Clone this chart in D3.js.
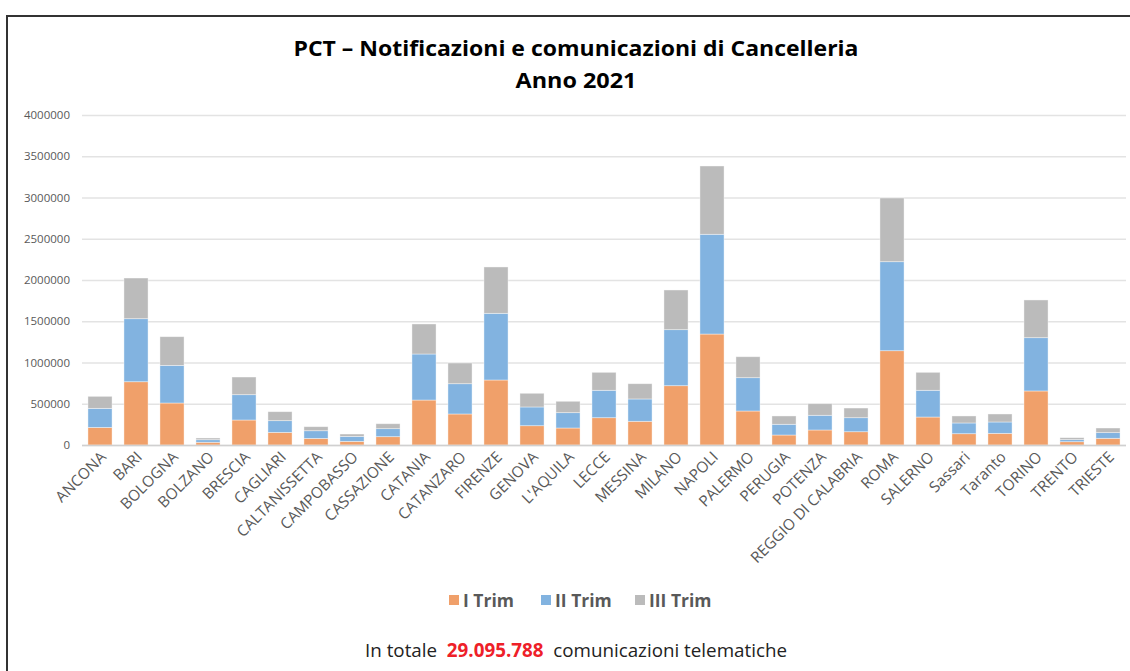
<!DOCTYPE html>
<html>
<head>
<meta charset="utf-8">
<script src="https://cdn.jsdelivr.net/npm/d3@7"></script>
<style>
html,body{margin:0;padding:0;background:#fff;}
svg{display:block;}
</style>
</head>
<body>
<svg id="chart" width="1130" height="671"></svg>
<script>
const categories = ["ANCONA","BARI","BOLOGNA","BOLZANO","BRESCIA","CAGLIARI","CALTANISSETTA","CAMPOBASSO","CASSAZIONE","CATANIA","CATANZARO","FIRENZE","GENOVA","L'AQUILA","LECCE","MESSINA","MILANO","NAPOLI","PALERMO","PERUGIA","POTENZA","REGGIO DI CALABRIA","ROMA","SALERNO","Sassari","Taranto","TORINO","TRENTO","TRIESTE"];
const trim1 = [213000,767000,509000,33000,303000,153000,80000,44000,101000,545000,376000,788000,234000,206000,331000,287000,719000,1345000,412000,121000,182000,161000,1143000,339000,137000,141000,655000,40000,81000];
const trim2 = [231000,764000,456000,31000,307000,142000,93000,60000,97000,558000,367000,808000,227000,186000,332000,271000,679000,1209000,404000,130000,178000,170000,1079000,324000,130000,138000,646000,25000,69000];
const trim3 = [146000,493000,348000,21000,214000,109000,49000,29000,60000,364000,251000,562000,166000,138000,218000,185000,481000,828000,254000,101000,141000,117000,772000,218000,85000,97000,457000,24000,56000];
const seriesNames = ["I Trim","II Trim","III Trim"];
const seriesColors = ["#F0A06A","#82B3E0","#BBBBBB"];
const yTicks = [0,500000,1000000,1500000,2000000,2500000,3000000,3500000,4000000];
const titleLines = ["PCT \u2013 Notificazioni e comunicazioni di Cancelleria","Anno 2021"];
const totalText = ["In totale ","29.095.788"," comunicazioni telematiche"];

const svg = d3.select("#chart");
const W = 1130, H = 671;
const m = {left:82, right:4, top:115, bottom:226};
const x = d3.scaleBand().domain(categories).range([m.left, W - m.right]).paddingInner(0.33).paddingOuter(0.165);
const y = d3.scaleLinear().domain([0,4000000]).range([H - m.bottom, m.top]);

// frame
svg.append("line").attr("x1",6).attr("x2",W).attr("y1",16).attr("y2",16).attr("stroke","#333").attr("stroke-width",2);
svg.append("line").attr("x1",7).attr("x2",7).attr("y1",15).attr("y2",H).attr("stroke","#333").attr("stroke-width",2);

// title
const fontMain = "'Open Sans', 'Liberation Sans', sans-serif";
svg.append("text").attr("x",576).attr("y",56).attr("text-anchor","middle")
  .attr("font-family",fontMain).attr("font-weight","bold").attr("font-size",21)
  .attr("fill","#000").attr("textLength",565).attr("lengthAdjust","spacingAndGlyphs").text(titleLines[0]);
svg.append("text").attr("x",576).attr("y",88).attr("text-anchor","middle")
  .attr("font-family",fontMain).attr("font-weight","bold").attr("font-size",21)
  .attr("fill","#000").attr("textLength",121).attr("lengthAdjust","spacingAndGlyphs").text(titleLines[1]);

// grid + y axis
const yAxis = d3.axisLeft(y).tickValues(yTicks).tickSize(-(W - m.right - m.left)).tickFormat(d3.format("d")).tickPadding(12);
const gy = svg.append("g").attr("transform",`translate(${m.left},0)`).call(yAxis);
gy.select(".domain").remove();
gy.selectAll(".tick line").attr("stroke","#E3E3E3").attr("stroke-width",1.3);
gy.selectAll(".tick text").attr("font-family",fontMain).attr("font-size",11.5).attr("fill","#595959");

// stacked bars
const rows = categories.map((c,i)=>({cat:c, t1:trim1[i], t2:trim2[i], t3:trim3[i]}));
const stack = d3.stack().keys(["t1","t2","t3"]);
const layers = stack(rows);
svg.append("g").selectAll("g").data(layers).join("g")
  .attr("fill",(d,i)=>seriesColors[i])
  .selectAll("rect").data(d=>d).join("rect")
  .attr("x",d=>x(d.data.cat)).attr("width",x.bandwidth())
  .attr("y",d=>y(d[1])).attr("height",d=>y(d[0])-y(d[1]))
  .attr("stroke","rgba(255,255,255,0.5)").attr("stroke-width",0.8);

// x axis line
svg.append("line").attr("x1",m.left).attr("x2",W-m.right).attr("y1",y(0)+0.5).attr("y2",y(0)+0.5)
  .attr("stroke","#D0D0D0").attr("stroke-width",1.5);

// x labels
const xAxis = d3.axisBottom(x).tickSize(0).tickPadding(0);
const gx = svg.append("g").attr("transform",`translate(0,${y(0)})`).call(xAxis);
gx.select(".domain").remove();
gx.selectAll(".tick text")
  .attr("font-family",fontMain).attr("font-size",15.3).attr("fill","#595959")
  .attr("text-anchor","end").attr("dy",null)
  .attr("transform","translate(7,13) rotate(-45)");

// legend
const legX = [449,541,635];
const lg = svg.append("g");
seriesNames.forEach((n,i)=>{
  lg.append("rect").attr("x",legX[i]).attr("y",595).attr("width",10).attr("height",10).attr("fill",seriesColors[i]);
  lg.append("text").attr("x",legX[i]+14).attr("y",607).attr("font-family",fontMain).attr("font-weight","bold")
    .attr("font-size",17.5).attr("fill","#595959").text(n);
});

// footer
const ft = svg.append("text").attr("x",576).attr("y",657).attr("text-anchor","middle")
  .attr("font-family",fontMain).attr("font-size",18.8).attr("fill","#222");
ft.append("tspan").text(totalText[0] + "\u00a0");
ft.append("tspan").attr("font-weight","bold").attr("fill","#EE2028").text(totalText[1]);
ft.append("tspan").text("\u00a0" + totalText[2]);
</script>
</body>
</html>
